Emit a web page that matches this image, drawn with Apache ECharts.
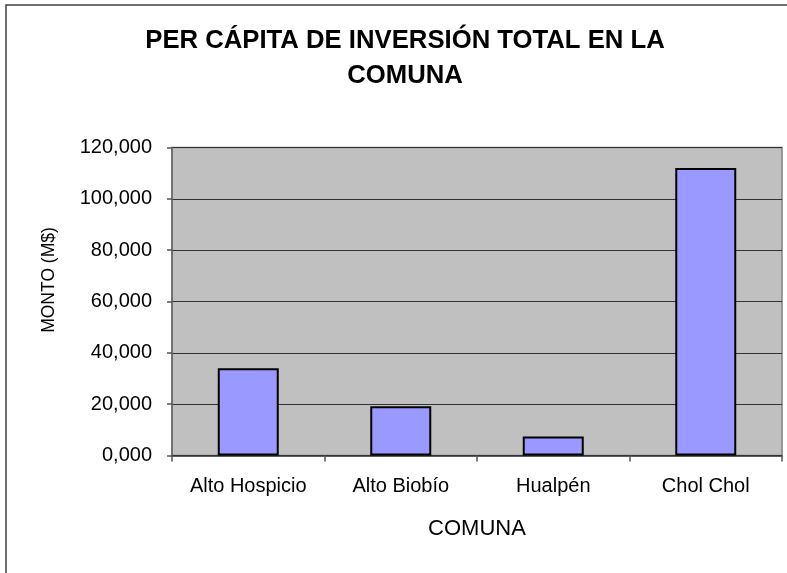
<!DOCTYPE html>
<html>
<head>
<meta charset="utf-8">
<script src="https://cdn.jsdelivr.net/npm/echarts@6/dist/echarts.min.js"></script>
<style>
  html, body { margin: 0; padding: 0; background: #fff; }
  #chart { width: 787px; height: 573px; }
</style>
</head>
<body>
<div id="chart"></div>
<script>
const categories = ['Alto Hospicio', 'Alto Biobío', 'Hualpén', 'Chol Chol'];
const values = [34000, 19200, 7400, 112000];
const yTickLabels = ['0,000', '20,000', '40,000', '60,000', '80,000', '100,000', '120,000'];
const titleText = 'PER CÁPITA DE INVERSIÓN TOTAL EN LA\nCOMUNA';
const xTitle = 'COMUNA';
const yTitle = 'MONTO (M$)';

const FONT = "'Liberation Sans', Arial, sans-serif";
const chart = echarts.init(document.getElementById('chart'), null, { renderer: 'canvas' });

chart.setOption({
  backgroundColor: '#ffffff',
  animation: false,
  graphic: [
    {
      type: 'rect',
      shape: { x: 6, y: 5, width: 1000, height: 1000 },
      style: { fill: 'none', stroke: '#404040', lineWidth: 1.5 },
      silent: true
    },
    {
      type: 'text',
      x: 405, y: 23,
      style: {
        text: titleText,
        fill: '#000',
        font: "bold 25.7px " + FONT,
        align: 'center',
        verticalAlign: 'top',
        lineHeight: 35
      }
    },
    {
      type: 'text',
      x: 49, y: 280,
      rotation: Math.PI / 2,
      style: {
        text: yTitle,
        fill: '#000',
        font: "17.5px " + FONT,
        align: 'center',
        verticalAlign: 'middle'
      }
    }
  ],
  grid: {
    left: 172, top: 147.5, right: 5, bottom: 117.5,
    show: true,
    backgroundColor: '#C0C0C0',
    borderColor: '#808080',
    borderWidth: 1.5
  },
  xAxis: {
    type: 'category',
    data: categories,
    boundaryGap: true,
    name: xTitle,
    nameLocation: 'middle',
    nameGap: 62,
    nameTextStyle: { fontFamily: FONT, fontSize: 22, color: '#000' },
    axisLine: { show: true, lineStyle: { color: '#333', width: 1.5 } },
    axisTick: { show: true, alignWithLabel: false, length: 6, inside: false, lineStyle: { color: '#555', width: 1.5 } },
    axisLabel: { fontFamily: FONT, fontSize: 20, color: '#000', margin: 21 },
    splitLine: { show: false }
  },
  yAxis: {
    type: 'value',
    min: 0, max: 120000, interval: 20000,
    axisLine: { show: true, lineStyle: { color: '#666', width: 1.5 } },
    axisTick: { show: true, length: 5, inside: false, lineStyle: { color: '#555', width: 1.5 } },
    axisLabel: {
      fontFamily: FONT, fontSize: 20, color: '#000', margin: 20,
      formatter: function (v) { return yTickLabels[Math.round(v / 20000)]; }
    },
    splitLine: { show: true, lineStyle: { color: '#333', width: 1.2 } }
  },
  series: [{
    type: 'bar',
    data: values,
    barWidth: '40%',
    itemStyle: { color: '#9999FF', borderColor: '#000', borderWidth: 2 }
  }]
});
</script>
</body>
</html>
